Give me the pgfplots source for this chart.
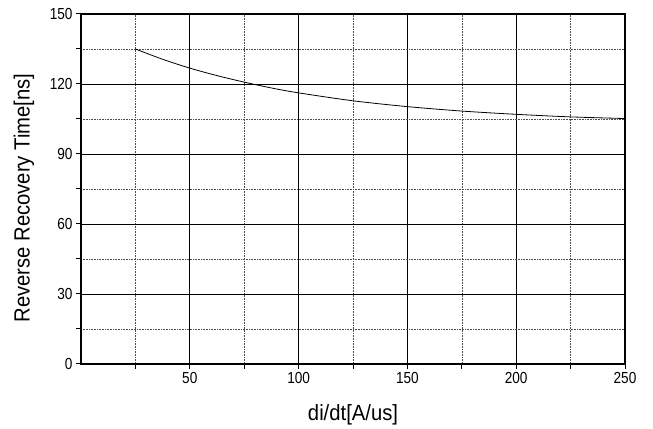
\documentclass[border=0pt]{standalone}
\usepackage{pgfplots}
\pgfplotsset{compat=1.18}
\usepackage{fontspec}
\setmainfont{Liberation Sans}
\newfontfamily\tickfont[FakeStretch=0.85]{Liberation Sans}
\newfontfamily\labfont[FakeStretch=0.92]{Liberation Sans}
\begin{document}
\begin{tikzpicture}
\begin{axis}[
  scale only axis,
  width=544pt, height=350pt,
  xmin=0, xmax=250, ymin=0, ymax=150,
  xtick={50,100,...,250},
  minor xtick={25,75,...,225},
  ytick={0,30,...,150},
  minor ytick={15,45,...,135},
  tick align=outside, tick pos=left,
  major tick length=5pt, minor tick length=5pt,
  every tick/.style={black, line width=1pt},
  grid=both,
  major grid style={black, line width=0.7pt},
  minor grid style={black!70, line width=0.6pt, densely dotted},
  axis line style={black, line width=1.3pt},
  tick label style={font=\tickfont\fontsize{16}{18}\selectfont},
  label style={font=\labfont\fontsize{22}{24}\selectfont},
  /pgf/number format/assume math mode=true,
  xlabel={di/dt[A/us]},
  ylabel={Reverse Recovery Time[ns]},
  xlabel style={at={(axis description cs:0.5,-0.146)}, anchor=center},
  ylabel style={at={(axis description cs:-0.105,0.474)}, anchor=center},
  clip=false,
]
\addplot[black, line width=0.8pt, smooth] coordinates {
  (25,135.0) (37.5,130.6) (50,126.8) (62.5,123.6) (75,120.8) (87.5,118.3)
  (100,116.2) (125,112.8) (150,110.3) (175,108.4) (200,107.0) (225,105.9) (250,105.2)
};
\end{axis}
\path (current axis.south west) ++(-81pt,-64pt) (current axis.north east) ++(28pt,14pt);
\end{tikzpicture}
\end{document}
